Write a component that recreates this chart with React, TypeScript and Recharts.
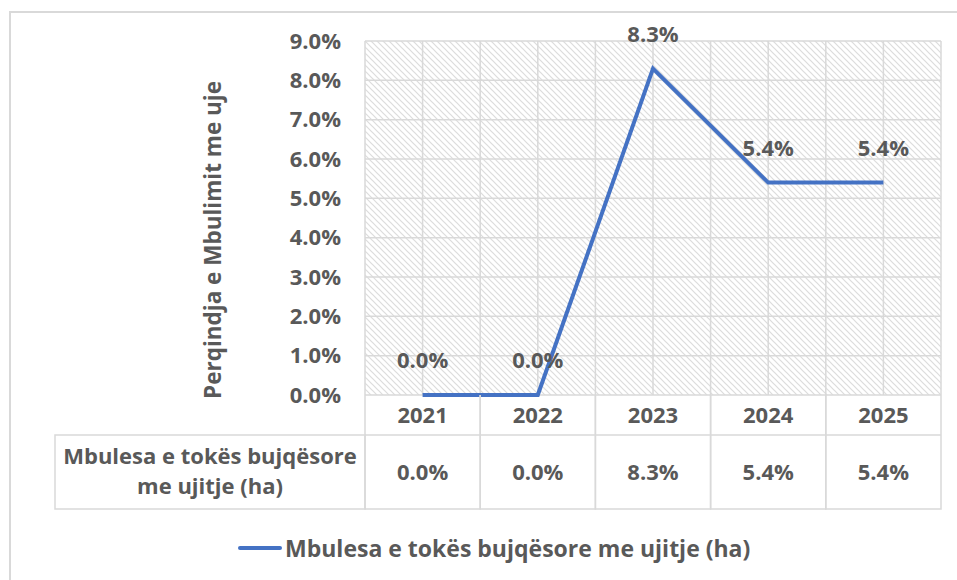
import React from "react";
import {
  LineChart,
  Line,
  XAxis,
  YAxis,
  CartesianGrid,
  LabelList,
} from "recharts";

const years = ["2021", "2022", "2023", "2024", "2025"];
const coverage = [0.0, 0.0, 8.3, 5.4, 5.4];
const yTicks = [0, 1, 2, 3, 4, 5, 6, 7, 8, 9];

const seriesName = "Mbulesa e tokës bujqësore me ujitje (ha)";
const rowLabel = ["Mbulesa e tokës bujqësore", "me ujitje (ha)"];
const yTitle = "Perqindja e Mbulimit me uje";

const data = years.map((y, i) => ({ year: y, value: coverage[i] }));

const FONT = "'Open Sans', sans-serif";
const TEXT = "#595959";
const BORDER = "#d9d9d9";
const BLUE = "#4472C4";

const W = 957;
const H = 580;
const PLOT_LEFT = 365;
const PLOT_RIGHT = 941;
const CELL_W = (PLOT_RIGHT - PLOT_LEFT) / years.length;

const fmt = (v: number) => v.toFixed(1) + "%";

// data table drawn under each category (top edge comes from the grid)
const TableTick = (props: any) => {
  const { x, y, payload } = props;
  const i = payload.index;
  const top = y;
  const left = x - CELL_W / 2;
  const right = x + CELL_W / 2;
  return (
    <g>
      <path
        d={`M${left},${top} V${top + 114} H${right} V${top} M${left},${top + 40} H${right}`}
        fill="none"
        stroke={BORDER}
        strokeWidth={1.5}
      />
      <text x={x} y={top + 28} textAnchor="middle" fontFamily={FONT} fontWeight={700} fontSize={22} fill={TEXT}>
        {payload.value}
      </text>
      <text x={x} y={top + 85} textAnchor="middle" fontFamily={FONT} fontWeight={700} fontSize={22} fill={TEXT}>
        {fmt(coverage[i])}
      </text>
      {i === 0 && (
        <g>
          <rect x={55} y={top + 40} width={left - 55} height={74} fill="none" stroke={BORDER} strokeWidth={1.5} />
          <text x={(55 + left) / 2} y={top + 69} textAnchor="middle" fontFamily={FONT} fontWeight={700} fontSize={22} fill={TEXT}>
            {rowLabel[0]}
          </text>
          <text x={(55 + left) / 2} y={top + 99} textAnchor="middle" fontFamily={FONT} fontWeight={700} fontSize={22} fill={TEXT}>
            {rowLabel[1]}
          </text>
        </g>
      )}
    </g>
  );
};

const PointLabel = (props: any) => {
  const { x, y, value } = props;
  return (
    <text x={x} y={y - 27} textAnchor="middle" fontFamily={FONT} fontWeight={700} fontSize={22} fill={TEXT}>
      {fmt(value)}
    </text>
  );
};

export default function App() {
  return (
    <div style={{ position: "absolute", left: 0, top: 0, width: W, height: H, background: "#fff" }}>
      <svg width={0} height={0} style={{ position: "absolute" }}>
        <defs>
          <pattern id="hatch" patternUnits="userSpaceOnUse" width={6} height={6}>
            <rect width={6} height={6} fill="#fff" />
            <path d="M-1,-1 L7,7 M-1,5 L1,7 M5,-1 L7,1" stroke="#dcdcdc" strokeWidth={1.2} />
          </pattern>
        </defs>
      </svg>
      {/* outer chart border */}
      <div style={{ position: "absolute", left: 9, top: 11, width: W - 9, height: H - 11, borderTop: `2px solid ${BORDER}`, borderLeft: `2px solid ${BORDER}` }} />
      {/* y axis title */}
      <div
        style={{
          position: "absolute",
          left: 212,
          top: 240,
          transform: "translate(-50%, -50%) rotate(-90deg)",
          whiteSpace: "nowrap",
          fontFamily: FONT,
          fontWeight: 700,
          fontSize: 22.5,
          color: TEXT,
        }}
      >
        {yTitle}
      </div>
      {/* legend */}
      <div
        style={{
          position: "absolute",
          left: 238,
          top: 532,
          display: "flex",
          alignItems: "center",
          fontFamily: FONT,
          fontWeight: 700,
          fontSize: 23,
          color: TEXT,
          whiteSpace: "nowrap",
        }}
      >
        <span style={{ display: "inline-block", width: 44, height: 4, borderRadius: 2, background: BLUE, marginRight: 3 }} />
        <span>{seriesName}</span>
      </div>
      <div style={{ position: "absolute", left: 0, top: 0 }}>
        <LineChart width={W} height={H} data={data} margin={{ top: 41, right: W - PLOT_RIGHT, left: PLOT_LEFT - 80, bottom: 70 }}>
          <CartesianGrid
            fill="url(#hatch)"
            stroke={BORDER}
            strokeWidth={1.5}
            verticalCoordinatesGenerator={({ offset }: any) =>
              Array.from({ length: years.length * 2 + 1 }, (_, k) => offset.left + (k * offset.width) / (years.length * 2))
            }
          />
          <XAxis
            dataKey="year"
            scale="band"
            height={115}
            axisLine={false}
            tickLine={false}
            tickSize={0}
            tickMargin={0}
            interval={0}
            tick={<TableTick />}
          />
          <YAxis
            width={80}
            domain={[0, 9]}
            ticks={yTicks}
            tickFormatter={(v: number) => fmt(v)}
            axisLine={false}
            tickLine={false}
            tickSize={0}
            tickMargin={24}
            tick={{ fontFamily: FONT, fontWeight: 700, fontSize: 22, fill: TEXT }}
          />
          <Line
            type="linear"
            dataKey="value"
            name={seriesName}
            stroke={BLUE}
            strokeWidth={4}
            dot={false}
            activeDot={false}
            isAnimationActive={false}
          >
            <LabelList dataKey="value" content={<PointLabel />} />
          </Line>
        </LineChart>
      </div>
    </div>
  );
}
